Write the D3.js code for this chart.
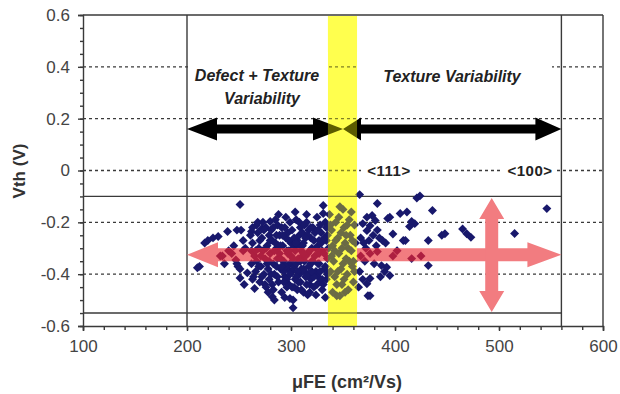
<!DOCTYPE html>
<html>
<head>
<meta charset="utf-8">
<script src="https://cdn.jsdelivr.net/npm/d3@7"></script>
<style>
  body { margin: 0; background: #fff; }
  svg { display: block; font-family: Arial, "Liberation Sans", sans-serif; }
</style>
</head>
<body>
<svg id="chart" width="620" height="394"></svg>
<script>
// axis ticks
const xTicks = [100, 200, 300, 400, 500, 600];
const yTicks = [0.6, 0.4, 0.2, 0, -0.2, -0.4, -0.6];
const yTickLabels = ["0.6", "0.4", "0.2", "0", "-0.2", "-0.4", "-0.6"];
const gridY = [0.4, 0.2, 0, -0.2, -0.4];

// region boundaries (muFE, Vth)
const boxX = [200, 560];
const boxY = [-0.1, -0.55];
const band = [335.5, 363.5];

// measured TFTs: [muFE, Vth]
const samples = [
  [210,-0.375],[212,-0.37],[217,-0.28],[220,-0.27],[225,-0.26],[230,-0.255],[232,-0.33],[234,-0.33],[236,-0.36],
  [239,-0.235],[243,-0.32],[248,-0.23],[251,-0.131],[252,-0.23],[249,-0.37],[251,-0.415],[247,-0.345],[240,-0.31],
  [245,-0.29],[254,-0.27],[254,-0.31],[256,-0.30],[262,-0.31],[258,-0.395],[255,-0.44],[248,-0.36],[251,-0.38],
  [263,-0.42],[265,-0.455],[275,-0.44],[282,-0.487],[267,-0.21],[262,-0.235],[272,-0.225],[280,-0.197],
  [261,-0.25],[263,-0.28],[265,-0.33],[262,-0.36],[266,-0.39],[268,-0.24],[269,-0.30],[264,-0.41],[267,-0.35],
  [270,-0.27],[270,-0.43],[268,-0.2],
  [272,-0.26],[273,-0.31],[271,-0.37],[274,-0.40],[276,-0.22],[277,-0.29],[275,-0.34],[278,-0.38],[279,-0.25],
  [276,-0.45],[280,-0.32],[279,-0.42],[273,-0.2],[278,-0.47],
  [281,-0.23],[282,-0.27],[283,-0.36],[284,-0.40],[285,-0.19],[286,-0.30],[287,-0.34],[288,-0.43],[289,-0.25],
  [290,-0.38],[283,-0.46],[287,-0.21],[285,-0.28],[289,-0.32],[282,-0.44],[288,-0.17],[284,-0.50],
  [291,-0.22],[292,-0.29],[293,-0.35],[294,-0.41],[295,-0.26],[296,-0.31],[297,-0.38],[298,-0.44],[299,-0.2],
  [300,-0.33],[291,-0.47],[295,-0.18],[297,-0.24],[293,-0.39],[299,-0.36],[296,-0.42],[294,-0.49],[300,-0.28],
  [302,-0.50],[302,-0.53],[299,-0.494],
  [301,-0.23],[302,-0.30],[303,-0.37],[304,-0.42],[305,-0.19],[306,-0.27],[307,-0.34],[308,-0.40],[309,-0.22],
  [310,-0.31],[303,-0.45],[306,-0.46],[308,-0.25],[305,-0.36],[310,-0.38],[304,-0.16],[307,-0.29],[309,-0.43],
  [311,-0.24],[312,-0.28],[313,-0.35],[314,-0.41],[315,-0.2],[316,-0.32],[317,-0.37],[318,-0.44],[319,-0.26],
  [320,-0.3],[312,-0.47],[315,-0.17],[317,-0.23],[313,-0.39],[319,-0.42],[316,-0.48],[320,-0.35],[311,-0.33],
  [321,-0.22],[322,-0.27],[323,-0.33],[324,-0.39],[325,-0.18],[326,-0.29],[327,-0.36],[328,-0.43],[329,-0.24],
  [330,-0.31],[331,-0.135],[331,-0.166],[332,-0.38],[333,-0.2],[334,-0.27],[335,-0.34],[322,-0.45],[326,-0.41],
  [330,-0.46],[334,-0.42],[328,-0.21],[324,-0.48],[333,-0.49],[335,-0.25],
  [263,-0.22],[266,-0.31],[269,-0.37],[271,-0.33],[274,-0.23],[277,-0.36],[280,-0.27],[281,-0.4],[284,-0.31],
  [286,-0.37],[288,-0.29],[290,-0.34],[292,-0.25],[293,-0.43],[295,-0.37],[297,-0.32],[298,-0.27],[301,-0.39],
  [302,-0.34],[303,-0.26],[304,-0.31],[306,-0.39],[307,-0.43],[308,-0.2],[309,-0.35],[311,-0.29],[312,-0.38],
  [313,-0.21],[314,-0.33],[315,-0.44],[316,-0.25],[317,-0.4],[318,-0.31],[319,-0.36],[321,-0.35],[322,-0.41],
  [323,-0.24],[324,-0.3],[325,-0.44],[326,-0.23],[327,-0.32],[328,-0.39],[329,-0.28],[330,-0.42],[332,-0.32],
  [333,-0.37],[334,-0.22],[336,-0.3],[272,-0.41],[276,-0.3],[279,-0.35],[283,-0.22],[287,-0.41],[291,-0.37],
  [294,-0.22],[296,-0.45],[299,-0.4],[301,-0.45],[305,-0.28],[310,-0.46],[314,-0.26],[318,-0.47],[320,-0.39],
  [327,-0.27],[331,-0.44],[335,-0.4],[286,-0.25],[290,-0.29],[298,-0.31],[305,-0.41],[312,-0.32],[319,-0.22],
  [326,-0.36],[332,-0.26],
  [337,-0.17],[339,-0.23],[340,-0.29],[341,-0.35],[342,-0.41],[343,-0.2],[344,-0.483],[345,-0.26],[346,-0.32],
  [347,-0.483],[348,-0.38],[349,-0.44],[350,-0.15],[351,-0.22],[352,-0.28],[353,-0.34],[354,-0.4],[355,-0.46],
  [356,-0.19],[357,-0.25],[358,-0.31],[359,-0.37],[360,-0.43],[361,-0.21],[362,-0.28],[338,-0.39],[344,-0.44],
  [352,-0.47],[358,-0.16],[346,-0.18],[355,-0.3],[340,-0.47],[348,-0.24],[360,-0.35],[342,-0.31],[350,-0.36],
  [339,-0.33],[343,-0.27],[345,-0.39],[349,-0.3],[351,-0.42],[353,-0.25],[356,-0.35],[359,-0.27],[338,-0.21],
  [347,-0.14],[354,-0.21],[361,-0.39],
  [366,-0.093],[369,-0.205],[373,-0.18],[378,-0.174],[376,-0.213],[373,-0.232],[383,-0.127],[383,-0.23],
  [381,-0.193],[393,-0.185],[395,-0.18],[398,-0.245],[367,-0.26],[370,-0.28],[372,-0.3],[375,-0.27],[379,-0.25],
  [382,-0.29],[385,-0.26],[388,-0.27],[391,-0.28],[383,-0.313],[367,-0.33],[371,-0.35],[376,-0.32],[387,-0.367],
  [390,-0.39],[395,-0.405],[392,-0.373],[376,-0.417],[373,-0.437],[386,-0.41],[374,-0.483],[376,-0.483],
  [366,-0.39],[369,-0.42],[365,-0.45],[380,-0.36],[398,-0.33],
  [405,-0.166],[411.5,-0.16],[416,-0.197],[419,-0.205],[414,-0.216],[408,-0.27],[410,-0.27],[421,-0.106],
  [424,-0.098],[436,-0.154],[432,-0.27],[445,-0.25],[448,-0.244],[465,-0.226],[469,-0.244],[473,-0.258],
  [416,-0.34],[432,-0.367],[515,-0.243],[546,-0.147],[402,-0.31],[425,-0.33]
];

// annotation arrows [from, to, level, head1, head2] in data units
const blackArrows = [[200, 350, 0.16, 30, 30], [350, 560, 0.16, 18, 26]];
const pinkH = [200, 560, -0.325];
const pinkV = [493, -0.106, -0.546];

const svg = d3.select("#chart");
const x = d3.scaleLinear().domain([100, 600]).range([83, 603]);
const y = d3.scaleLinear().domain([-0.6, 0.6]).range([326, 15]);

const ink = "#3a3a3a";
const navy = "#18186c";
const pink = "#f27c80";

function hArrow(x1, x2, yc, shaft, head, l1, l2) {
  const s = shaft / 2, h = head / 2;
  return `M${x1},${yc}L${x1 + l1},${yc - h}L${x1 + l1},${yc - s}L${x2 - l2},${yc - s}L${x2 - l2},${yc - h}` +
    `L${x2},${yc}L${x2 - l2},${yc + h}L${x2 - l2},${yc + s}L${x1 + l1},${yc + s}L${x1 + l1},${yc + h}Z`;
}
function vArrow(xc, y1, y2, shaft, head, l) {
  const s = shaft / 2, h = head / 2;
  return `M${xc},${y1}L${xc + h},${y1 + l}L${xc + s},${y1 + l}L${xc + s},${y2 - l}L${xc + h},${y2 - l}` +
    `L${xc},${y2}L${xc - h},${y2 - l}L${xc - s},${y2 - l}L${xc - s},${y1 + l}L${xc - h},${y1 + l}Z`;
}

const defs = svg.append("defs");
// pink arrows do not show inside the yellow band
const outBand = defs.append("clipPath").attr("id", "outband");
outBand.append("rect").attr("x", 0).attr("y", 0).attr("width", x(band[0])).attr("height", 394);
outBand.append("rect").attr("x", x(band[1])).attr("y", 0).attr("width", 620 - x(band[1])).attr("height", 394);
const pinkPaths = [
  hArrow(x(pinkH[0]), x(pinkH[1]), y(pinkH[2]), 13, 25, 31, 34),
  vArrow(x(pinkV[0]), y(pinkV[1]), y(pinkV[2]), 13, 25, 21)
];
const pinkClip = defs.append("clipPath").attr("id", "pinkclip");
pinkPaths.forEach(p => pinkClip.append("path").attr("d", p));

// yellow underlay
svg.append("rect")
  .attr("x", x(band[0])).attr("y", y(0.6) + 1)
  .attr("width", x(band[1]) - x(band[0])).attr("height", y(-0.6) - y(0.6) - 1)
  .attr("fill", "#ffff7a");

// dotted grid
svg.append("g").selectAll("line").data(gridY).join("line")
  .attr("x1", x(100)).attr("x2", x(600))
  .attr("y1", d => y(d)).attr("y2", d => y(d))
  .attr("stroke", ink).attr("stroke-width", 1.4).attr("stroke-dasharray", "3,3");

// solid frame lines
const frame = svg.append("g").attr("stroke", ink).attr("stroke-width", 1.4);
frame.append("line").attr("x1", x(100)).attr("x2", x(600)).attr("y1", y(0.6)).attr("y2", y(0.6));
frame.append("line").attr("x1", x(600)).attr("x2", x(600)).attr("y1", y(0.6)).attr("y2", y(-0.6));
boxX.forEach(v => frame.append("line").attr("x1", x(v)).attr("x2", x(v)).attr("y1", y(0.6)).attr("y2", y(-0.6)));
boxY.forEach(v => frame.append("line").attr("x1", x(100)).attr("x2", x(560)).attr("y1", y(v)).attr("y2", y(v)));

// white label boxes over the grid
const boxes = [[188, 52, 140, 58], [357, 52, 195, 52], [361, 161, 57, 18], [503, 161, 53, 18]];
svg.append("g").selectAll("rect").data(boxes).join("rect")
  .attr("x", d => d[0]).attr("y", d => d[1]).attr("width", d => d[2]).attr("height", d => d[3])
  .attr("fill", "#fff");

// black arrows
svg.append("g").selectAll("path").data(blackArrows).join("path")
  .attr("d", d => hArrow(x(d[0]), x(d[1]), y(d[2]), 9, 23, d[3], d[4]))
  .attr("fill", "#000");

// axes
svg.append("g").attr("transform", `translate(0,${y(-0.6)})`)
  .call(d3.axisBottom(x).tickValues(xTicks).tickSize(5).tickPadding(9).tickFormat(d3.format("d")));
svg.append("g").attr("transform", `translate(0,${y(-0.6)})`)
  .call(d3.axisBottom(x).tickValues(d3.range(100, 601, 20)).tickSize(4).tickFormat(""))
  .call(g => g.select(".domain").remove());
svg.append("g").attr("transform", `translate(${x(100)},0)`)
  .call(d3.axisLeft(y).tickValues(yTicks).tickSize(5).tickPadding(8).tickFormat((d, i) => yTickLabels[i]));
svg.append("g").attr("transform", `translate(${x(100)},0)`)
  .call(d3.axisLeft(y).tickValues(d3.range(-12, 13).map(i => i * 0.05)).tickSize(3).tickFormat(""))
  .call(g => g.select(".domain").remove());
svg.selectAll(".domain, .tick line").attr("stroke", ink).attr("stroke-width", 1.4);
svg.selectAll(".tick text").attr("fill", "#444").attr("font-size", 17).attr("font-family", "Arial, 'Liberation Sans', sans-serif");

// points
const diamond = d3.symbol().type(d3.symbolSquare).size(40)();
const drawPoints = (g, color) => g.selectAll("path").data(samples).join("path")
  .attr("d", diamond)
  .attr("transform", d => `translate(${x(d[0])},${y(d[1])}) rotate(45)`)
  .attr("fill", color);
drawPoints(svg.append("g"), navy);

// pink arrows with points tinted underneath
const pinkLayer = svg.append("g").attr("clip-path", "url(#outband)");
pinkLayer.selectAll("path.arr").data(pinkPaths).join("path").attr("class", "arr")
  .attr("d", d => d).attr("fill", pink);
drawPoints(pinkLayer.append("g").attr("clip-path", "url(#pinkclip)"), "#ad1f40");

// translucent yellow overlay
svg.append("rect")
  .attr("x", x(band[0])).attr("y", y(0.6) + 1)
  .attr("width", x(band[1]) - x(band[0])).attr("height", y(-0.6) - y(0.6) - 1)
  .attr("fill", "#ffff00").attr("fill-opacity", 0.36);

// annotation text
const notes = svg.append("g").attr("fill", "#222").attr("font-weight", "bold").attr("font-style", "italic")
  .attr("font-size", 16).attr("text-anchor", "middle");
notes.append("text").attr("x", 257).attr("y", 81).text("Defect + Texture");
notes.append("text").attr("x", 262).attr("y", 104).text("Variability");
notes.append("text").attr("x", 452).attr("y", 82).text("Texture Variability");
const dirs = svg.append("g").attr("fill", "#222").attr("font-weight", "bold").attr("font-size", 15)
  .attr("text-anchor", "middle").attr("letter-spacing", 0.5);
dirs.append("text").attr("x", 389).attr("y", 175.5).text("<111>");
dirs.append("text").attr("x", 530).attr("y", 175.5).text("<100>");

// axis titles
svg.append("text").attr("transform", `translate(25,171) rotate(-90)`)
  .attr("text-anchor", "middle").attr("font-weight", "bold").attr("font-size", 17).attr("fill", "#333")
  .text("Vth (V)");
svg.append("text").attr("x", 347).attr("y", 388)
  .attr("text-anchor", "middle").attr("font-weight", "bold").attr("font-size", 18).attr("fill", "#333")
  .text("μFE (cm²/Vs)");
</script>
</body>
</html>
